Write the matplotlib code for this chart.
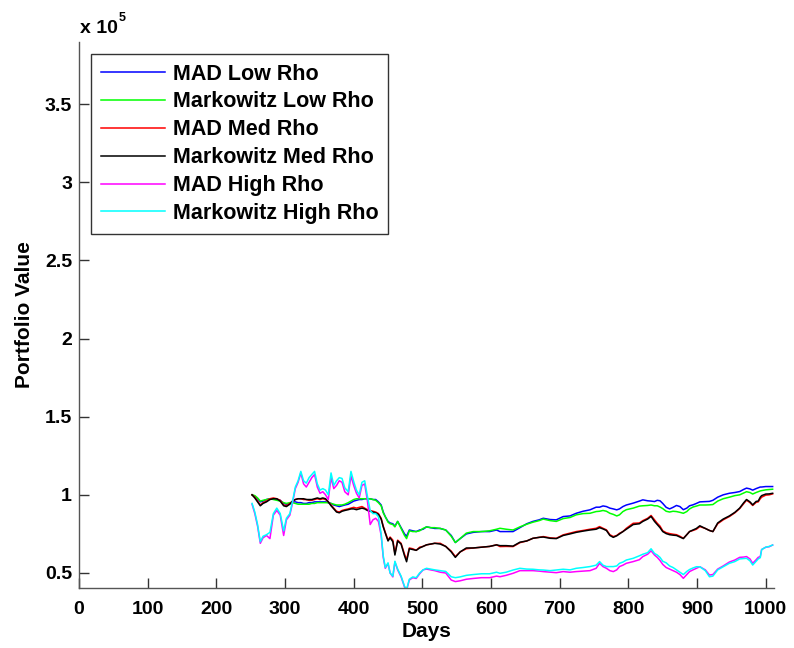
import matplotlib
matplotlib.use("Agg")
import matplotlib.pyplot as plt
from matplotlib.ticker import FuncFormatter, MultipleLocator

plt.rcParams["font.family"] = ["Liberation Sans", "DejaVu Sans"]
plt.rcParams["font.weight"] = "bold"

# ── Data (portfolio value, in units of 1e5) ─────────────────────────────────
days = [252, 256, 260, 264, 268, 273, 278, 283, 288, 293,
        298, 302, 307, 311, 315, 319, 323, 327, 331, 335,
        339, 343, 347, 351, 355, 359, 363, 367, 371, 375,
        379, 383, 387, 392, 396, 400, 404, 408, 412, 416,
        420, 424, 428, 432, 436, 440, 443, 446, 450, 453,
        457, 460, 464, 469, 474, 477, 481, 486, 491, 496,
        501, 506, 512, 518, 526, 534, 542, 548, 555, 564,
        574, 586, 598, 608, 613, 622, 632, 642, 652, 661,
        670, 676, 686, 695, 705, 715, 724, 734, 744, 753,
        758, 763, 768, 773, 778, 783, 787, 792, 797, 807,
        816, 821, 828, 833, 838, 842, 846, 850, 855, 860,
        865, 870, 875, 880, 885, 889, 894, 899, 904, 912,
        918, 923, 930, 938, 947, 955, 962, 968, 972, 977,
        981, 986, 989, 992, 994, 1000, 1005, 1010]

mad_low = [1.000, 0.990, 0.975, 0.955, 0.960, 0.970, 0.975, 0.975, 0.970, 0.965,
           0.945, 0.940, 0.945, 0.955, 0.955, 0.950, 0.950, 0.945, 0.945, 0.950,
           0.950, 0.955, 0.955, 0.955, 0.955, 0.955, 0.950, 0.945, 0.935, 0.930,
           0.925, 0.930, 0.935, 0.940, 0.950, 0.960, 0.965, 0.970, 0.970, 0.975,
           0.975, 0.975, 0.970, 0.970, 0.955, 0.935, 0.890, 0.860, 0.830, 0.820,
           0.815, 0.800, 0.830, 0.790, 0.750, 0.735, 0.775, 0.770, 0.765, 0.775,
           0.780, 0.795, 0.790, 0.785, 0.785, 0.775, 0.740, 0.695, 0.720, 0.750,
           0.760, 0.765, 0.765, 0.775, 0.765, 0.765, 0.765, 0.790, 0.815, 0.830,
           0.840, 0.850, 0.842, 0.840, 0.861, 0.865, 0.882, 0.895, 0.904, 0.921,
           0.921, 0.929, 0.925, 0.915, 0.910, 0.904, 0.910, 0.925, 0.935, 0.947,
           0.960, 0.968, 0.962, 0.960, 0.957, 0.965, 0.962, 0.945, 0.920, 0.910,
           0.920, 0.932, 0.925, 0.905, 0.915, 0.930, 0.936, 0.945, 0.955, 0.957,
           0.958, 0.965, 0.985, 1.000, 1.010, 1.015, 1.021, 1.035, 1.043, 1.038,
           1.030, 1.040, 1.045, 1.050, 1.050, 1.053, 1.053, 1.053]

mkw_low = [1.000, 0.995, 0.980, 0.960, 0.965, 0.970, 0.975, 0.970, 0.965, 0.960,
           0.950, 0.945, 0.950, 0.950, 0.945, 0.940, 0.940, 0.940, 0.940, 0.940,
           0.945, 0.945, 0.950, 0.950, 0.950, 0.950, 0.950, 0.945, 0.940, 0.935,
           0.935, 0.935, 0.940, 0.950, 0.960, 0.970, 0.975, 0.975, 0.975, 0.975,
           0.975, 0.975, 0.970, 0.965, 0.950, 0.930, 0.885, 0.860, 0.825, 0.815,
           0.810, 0.795, 0.830, 0.785, 0.740, 0.720, 0.770, 0.765, 0.765, 0.770,
           0.785, 0.795, 0.790, 0.790, 0.785, 0.775, 0.735, 0.695, 0.720, 0.755,
           0.765, 0.765, 0.770, 0.780, 0.786, 0.780, 0.775, 0.795, 0.812, 0.825,
           0.835, 0.845, 0.835, 0.830, 0.848, 0.855, 0.872, 0.880, 0.882, 0.893,
           0.895, 0.900, 0.895, 0.882, 0.875, 0.865, 0.872, 0.893, 0.905, 0.915,
           0.928, 0.930, 0.932, 0.935, 0.930, 0.930, 0.922, 0.912, 0.895, 0.890,
           0.895, 0.893, 0.888, 0.882, 0.893, 0.910, 0.922, 0.928, 0.935, 0.935,
           0.936, 0.938, 0.960, 0.975, 0.985, 0.995, 1.000, 1.012, 1.020, 1.015,
           1.005, 1.015, 1.020, 1.025, 1.027, 1.032, 1.034, 1.036]

mad_med = [1.000, 0.985, 0.960, 0.935, 0.950, 0.960, 0.975, 0.980, 0.975, 0.965,
           0.935, 0.930, 0.945, 0.960, 0.970, 0.975, 0.975, 0.970, 0.970, 0.965,
           0.965, 0.970, 0.975, 0.970, 0.975, 0.970, 0.955, 0.935, 0.915, 0.895,
           0.890, 0.900, 0.905, 0.910, 0.915, 0.920, 0.915, 0.920, 0.925, 0.915,
           0.905, 0.900, 0.895, 0.890, 0.880, 0.850, 0.800, 0.760, 0.710, 0.730,
           0.710, 0.625, 0.710, 0.690, 0.620, 0.585, 0.660, 0.655, 0.645, 0.665,
           0.670, 0.680, 0.685, 0.690, 0.690, 0.670, 0.640, 0.605, 0.635, 0.655,
           0.660, 0.665, 0.670, 0.680, 0.669, 0.670, 0.669, 0.694, 0.705, 0.722,
           0.728, 0.733, 0.725, 0.722, 0.744, 0.755, 0.765, 0.772, 0.780, 0.786,
           0.797, 0.786, 0.776, 0.745, 0.733, 0.740, 0.754, 0.765, 0.786, 0.818,
           0.820, 0.835, 0.850, 0.868, 0.840, 0.818, 0.800, 0.770, 0.758, 0.752,
           0.748, 0.745, 0.735, 0.722, 0.745, 0.765, 0.772, 0.780, 0.797, 0.785,
           0.772, 0.765, 0.815, 0.840, 0.861, 0.885, 0.912, 0.945, 0.966, 0.950,
           0.932, 0.952, 0.955, 0.975, 0.985, 0.998, 1.000, 1.006]

mkw_med = [1.000, 0.980, 0.955, 0.930, 0.945, 0.955, 0.970, 0.975, 0.975, 0.960,
           0.930, 0.925, 0.940, 0.960, 0.970, 0.975, 0.975, 0.975, 0.970, 0.970,
           0.970, 0.975, 0.980, 0.975, 0.980, 0.975, 0.955, 0.930, 0.910, 0.890,
           0.885, 0.895, 0.900, 0.905, 0.910, 0.910, 0.905, 0.910, 0.915, 0.910,
           0.900, 0.895, 0.890, 0.885, 0.875, 0.845, 0.795, 0.755, 0.705, 0.725,
           0.700, 0.615, 0.705, 0.685, 0.610, 0.572, 0.655, 0.650, 0.645, 0.660,
           0.670, 0.680, 0.685, 0.690, 0.685, 0.670, 0.635, 0.600, 0.635, 0.660,
           0.660, 0.665, 0.670, 0.680, 0.675, 0.675, 0.672, 0.697, 0.705, 0.722,
           0.728, 0.730, 0.722, 0.720, 0.740, 0.750, 0.760, 0.768, 0.775, 0.780,
           0.790, 0.782, 0.772, 0.740, 0.728, 0.738, 0.750, 0.765, 0.780, 0.810,
           0.815, 0.830, 0.845, 0.862, 0.830, 0.810, 0.790, 0.765, 0.752, 0.745,
           0.742, 0.740, 0.730, 0.720, 0.745, 0.765, 0.775, 0.785, 0.802, 0.785,
           0.772, 0.765, 0.820, 0.845, 0.865, 0.888, 0.915, 0.950, 0.970, 0.955,
           0.936, 0.958, 0.960, 0.985, 0.995, 1.005, 1.006, 1.010]

mad_high = [0.940, 0.880, 0.800, 0.690, 0.725, 0.740, 0.720, 0.870, 0.900, 0.870,
            0.740, 0.840, 0.870, 0.950, 1.040, 1.080, 1.140, 1.070, 1.050, 1.080,
            1.110, 1.130, 1.050, 1.010, 1.020, 1.000, 0.970, 1.110, 1.040, 1.060,
            1.090, 1.080, 1.020, 1.000, 1.120, 1.060, 1.010, 0.980, 1.060, 1.070,
            0.960, 0.810, 0.840, 0.850, 0.830, 0.740, 0.600, 0.530, 0.560, 0.500,
            0.475, 0.570, 0.520, 0.475, 0.410, 0.390, 0.455, 0.470, 0.465, 0.495,
            0.520, 0.525, 0.520, 0.515, 0.505, 0.500, 0.455, 0.445, 0.450, 0.460,
            0.465, 0.470, 0.470, 0.480, 0.476, 0.485, 0.498, 0.515, 0.515, 0.515,
            0.512, 0.509, 0.505, 0.502, 0.509, 0.505, 0.509, 0.512, 0.515, 0.530,
            0.562, 0.541, 0.530, 0.515, 0.509, 0.520, 0.541, 0.550, 0.562, 0.573,
            0.585, 0.605, 0.620, 0.642, 0.615, 0.600, 0.580, 0.555, 0.535, 0.525,
            0.515, 0.505, 0.490, 0.466, 0.490, 0.509, 0.520, 0.530, 0.540, 0.520,
            0.487, 0.490, 0.525, 0.545, 0.570, 0.583, 0.600, 0.602, 0.605, 0.590,
            0.562, 0.585, 0.600, 0.605, 0.650, 0.665, 0.668, 0.679]

mkw_high = [0.945, 0.890, 0.810, 0.700, 0.735, 0.745, 0.760, 0.880, 0.915, 0.880,
            0.770, 0.850, 0.880, 0.960, 1.050, 1.090, 1.150, 1.090, 1.075, 1.110,
            1.130, 1.150, 1.070, 1.030, 1.040, 1.030, 1.000, 1.140, 1.060, 1.090,
            1.110, 1.105, 1.045, 1.020, 1.150, 1.085, 1.030, 1.000, 1.080, 1.090,
            0.990, 0.900, 0.880, 0.880, 0.860, 0.750, 0.610, 0.535, 0.565, 0.500,
            0.480, 0.575, 0.525, 0.480, 0.415, 0.395, 0.460, 0.475, 0.470, 0.500,
            0.520, 0.530, 0.525, 0.520, 0.515, 0.510, 0.476, 0.470, 0.475, 0.485,
            0.490, 0.495, 0.495, 0.505, 0.498, 0.505, 0.519, 0.530, 0.525, 0.524,
            0.520, 0.519, 0.515, 0.519, 0.524, 0.520, 0.530, 0.535, 0.541, 0.550,
            0.573, 0.550, 0.541, 0.541, 0.541, 0.545, 0.562, 0.570, 0.583, 0.594,
            0.610, 0.620, 0.630, 0.655, 0.625, 0.615, 0.600, 0.575, 0.565, 0.545,
            0.535, 0.520, 0.505, 0.490, 0.510, 0.522, 0.532, 0.540, 0.540, 0.515,
            0.476, 0.480, 0.520, 0.540, 0.562, 0.573, 0.590, 0.592, 0.594, 0.578,
            0.551, 0.575, 0.590, 0.598, 0.650, 0.665, 0.670, 0.679]

labels = ["MAD Low Rho", "Markowitz Low Rho", "MAD Med Rho",
          "Markowitz Med Rho", "MAD High Rho", "Markowitz High Rho"]
colors = ["#0000ff", "#00ff00", "#ff0000", "#000000", "#ff00ff", "#00ffff"]
series = [mad_low, mkw_low, mad_med, mkw_med, mad_high, mkw_high]

# ── Plot ────────────────────────────────────────────────────────────────────
W, H = 794, 648
fig = plt.figure(figsize=(W / 100, H / 100), dpi=100)
ax = fig.add_axes([79 / W, 1 - 588 / H, 695 / W, 546 / H])

for vals, lab, col in zip(series, labels, colors):
    ax.plot(days, [v * 1e5 for v in vals], color=col, lw=1.1, label=lab)

ax.set_xlim(0, 1012)
ax.set_ylim(0.404e5, 3.897e5)
ax.xaxis.set_major_locator(MultipleLocator(100))
ax.set_yticks([0.5e5, 1e5, 1.5e5, 2e5, 2.5e5, 3e5, 3.5e5])
ax.yaxis.set_major_formatter(FuncFormatter(lambda v, _: f"{v / 1e5:g}"))

for side in ["top", "right"]:
    ax.spines[side].set_visible(False)
for side in ["left", "bottom"]:
    ax.spines[side].set_color("#555555")
    ax.spines[side].set_linewidth(1.0)
ax.tick_params(direction="in", length=7, width=1.0, color="#333333",
               labelsize=14)
ax.tick_params(axis="x", pad=9)
ax.tick_params(axis="y", pad=5)
for lab in ax.get_xticklabels() + ax.get_yticklabels():
    lab.set_fontweight("bold")

ax.set_xlabel("Days", fontsize=15, fontweight="bold", labelpad=3)
ax.set_ylabel("Portfolio Value", fontsize=15, fontweight="bold", labelpad=8)

# MATLAB-style exponent label above the y axis
fig.text(80 / W, 1 - 33 / H, "x 10", fontsize=14, fontweight="bold",
         ha="left", va="baseline")
fig.text(119 / W, 1 - 21 / H, "5", fontsize=9, fontweight="bold",
         ha="left", va="baseline")

leg = ax.legend(loc="upper left", fontsize=15.5, frameon=True, fancybox=False,
                handlelength=3.0, handletextpad=0.35, labelspacing=0.32,
                borderpad=0.45, borderaxespad=0.55)
leg.get_frame().set_edgecolor("black")
leg.get_frame().set_linewidth(1.0)
for t in leg.get_texts():
    t.set_fontweight("bold")

fig.savefig("out.png", dpi=100)
plt.close(fig)
print("Saved: out.png")
